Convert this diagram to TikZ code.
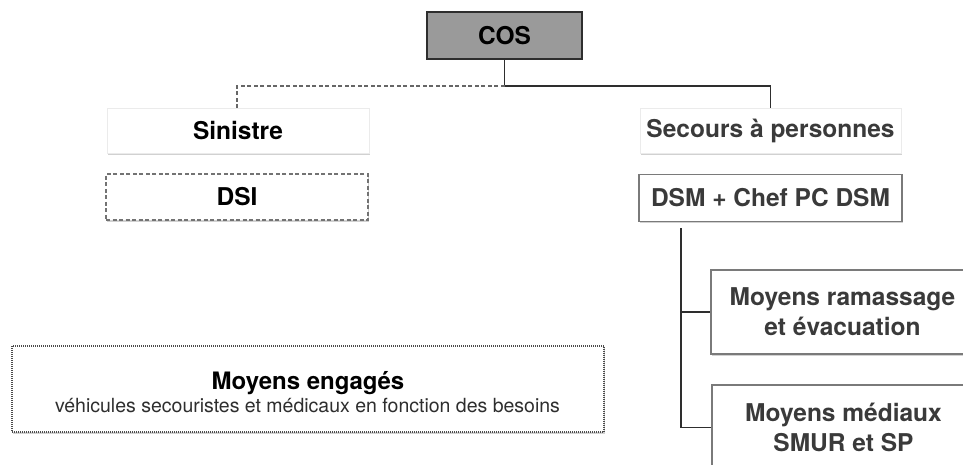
\documentclass[tikz,border=0pt]{standalone}
\usepackage{fontspec}
\setmainfont{TeX Gyre Heros}
\usetikzlibrary{shadows}
\definecolor{cosfill}{HTML}{9A9A9A}
\definecolor{ink}{HTML}{2E2E2E}
\definecolor{softtext}{HTML}{3A3A3A}
\definecolor{framegray}{HTML}{7A7A7A}
\tikzset{
  bigtext/.style={font=\bfseries\fontsize{24.5}{30}\selectfont},
  box/.style={rectangle, inner sep=0pt, align=center, bigtext},
  shade/.style={drop shadow={shadow xshift=0.8pt, shadow yshift=-1.8pt, opacity=0.4, fill=black!45}},
  plainbox/.style={box, fill=white, draw=black!8, line width=0.6pt, shade},
  framedbox/.style={box, fill=white, draw=framegray, line width=1.8pt, text=softtext, shade},
  dashbox/.style={box, fill=white, draw=black!55, line width=1.5pt, dash pattern=on 4pt off 2.5pt, shade},
  dotbox/.style={box, fill=white, draw=black!70, line width=1.6pt, dash pattern=on 1pt off 1pt, shade},
  link/.style={draw=ink, line width=1.8pt},
  dlink/.style={draw=black!60, line width=1.6pt, dash pattern=on 4pt off 2.5pt},
}
\begin{document}
\begin{tikzpicture}[x=1pt, y=-1pt]
  \useasboundingbox (0,0) rectangle (963,465);

  % top command box
  \node[box, fill=cosfill, draw=ink, line width=1.8pt, minimum width=155pt, minimum height=47pt] (cos) at (504.5,35.5) {COS};

  % left branch
  \node[plainbox, minimum width=262pt, minimum height=45pt] (sinistre) at (238,131) {\raisebox{-1pt}{Sinistre}};
  \node[dashbox, minimum width=262pt, minimum height=46pt] (dsi) at (237,197) {DSI};

  % right branch
  \node[plainbox, text=softtext, minimum width=261pt, minimum height=45pt] (secours) at (770.5,131) {\raisebox{-1pt}{Secours à personnes}};
  \node[framedbox, minimum width=263pt, minimum height=47pt] (dsm) at (770.5,198) {DSM + Chef PC DSM};

  \node[framedbox, minimum width=263pt, minimum height=84pt] (ramassage) at (842.5,312) {Moyens ramassage\\et évacuation};
  \node[framedbox, minimum width=263pt, minimum height=85pt] (mediaux) at (843.5,427.5) {Moyens médiaux\\SMUR et SP};

  % engaged means
  \node[dotbox, minimum width=592pt, minimum height=86pt] (engages) at (308,389) {};
  \node[anchor=base, font=\bfseries\fontsize{24}{24}\selectfont] (engtitle) at (308,389) {Moyens engagés};
  \node[anchor=base, text=ink, font=\fontsize{19.5}{19.5}\selectfont] (engsub) at (307.5,412) {véhicules secouristes et médicaux en fonction des besoins};

  % connectors
  \draw[link] (cos.south) -- ++(0,26) coordinate (fork) -| (secours.north);
  \draw[dlink] (fork) -| ([xshift=-1pt]sinistre.north);

  \coordinate (trunk) at (681,228);
  \draw[link] (trunk) |- (mediaux.west);
  \draw[link] (trunk |- ramassage.west) -- (ramassage.west);
\end{tikzpicture}
\end{document}
